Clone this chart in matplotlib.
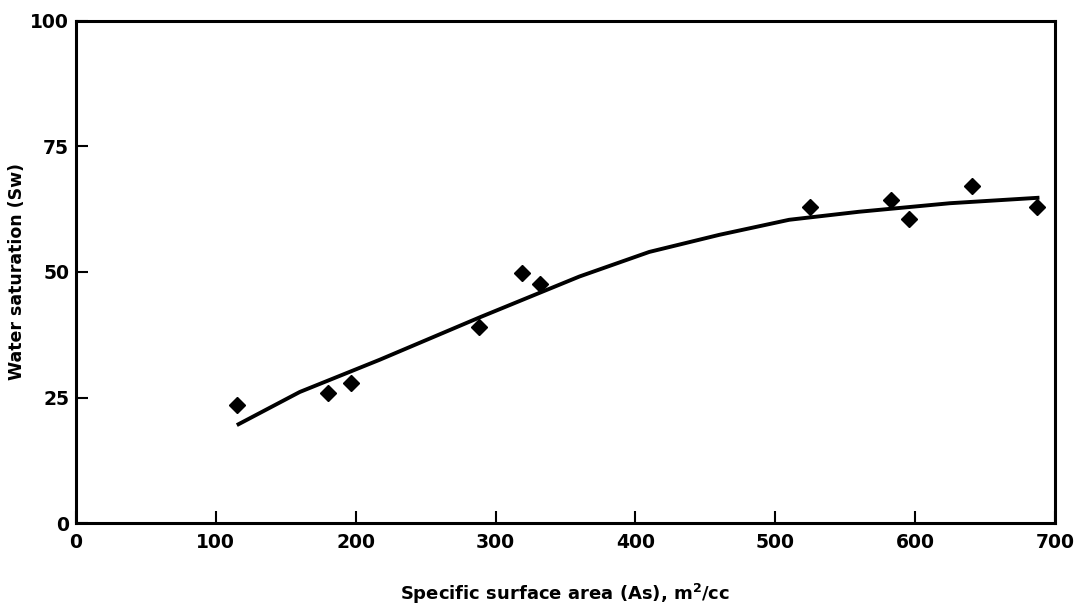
import matplotlib
matplotlib.use("Agg")
import matplotlib.pyplot as plt

# measured points
surface_area = [115, 180, 197, 288, 319, 332, 525, 583, 596, 641, 687]
water_sat = [23.6, 25.9, 27.9, 39.0, 49.8, 47.6, 62.9, 64.3, 60.6, 67.1, 62.9]

# hand-drawn trend curve
curve_x = [115, 160, 217, 289, 360, 410, 460, 510, 560, 625, 689]
curve_y = [19.5, 26.1, 32.5, 41.0, 49.1, 54.0, 57.4, 60.4, 62.0, 63.7, 64.8]

x_ticks = [0, 100, 200, 300, 400, 500, 600, 700]
y_ticks = [0, 25, 50, 75, 100]

plt.rcParams["font.family"] = ["DejaVu Sans"]
plt.rcParams["font.weight"] = "bold"

fig = plt.figure(figsize=(10.83, 6.10), dpi=100)
ax = fig.add_axes([0.0702, 0.1426, 0.9038, 0.823])

ax.plot(curve_x, curve_y, color="black", linewidth=2.8, solid_capstyle="butt",
        solid_joinstyle="round")
ax.plot(surface_area, water_sat, linestyle="none", marker="D", markersize=8.5,
        color="black")

ax.set_xlim(0, 700)
ax.set_ylim(0, 100)
ax.set_xticks(x_ticks)
ax.set_yticks(y_ticks)
ax.tick_params(direction="in", length=8.5, width=1.5, labelsize=13.5, pad=5)
ax.tick_params(axis="x", pad=7)
for side in ("left", "right", "top", "bottom"):
    ax.spines[side].set_linewidth(2.2)

ax.set_xlabel("Specific surface area (As), m$^\\mathbf{2}$/cc", fontsize=13,
              fontweight="bold", labelpad=22)
ax.set_ylabel("Water saturation (Sw)", fontsize=12.5, fontweight="bold", labelpad=3)

fig.savefig("out.png", dpi=100)
